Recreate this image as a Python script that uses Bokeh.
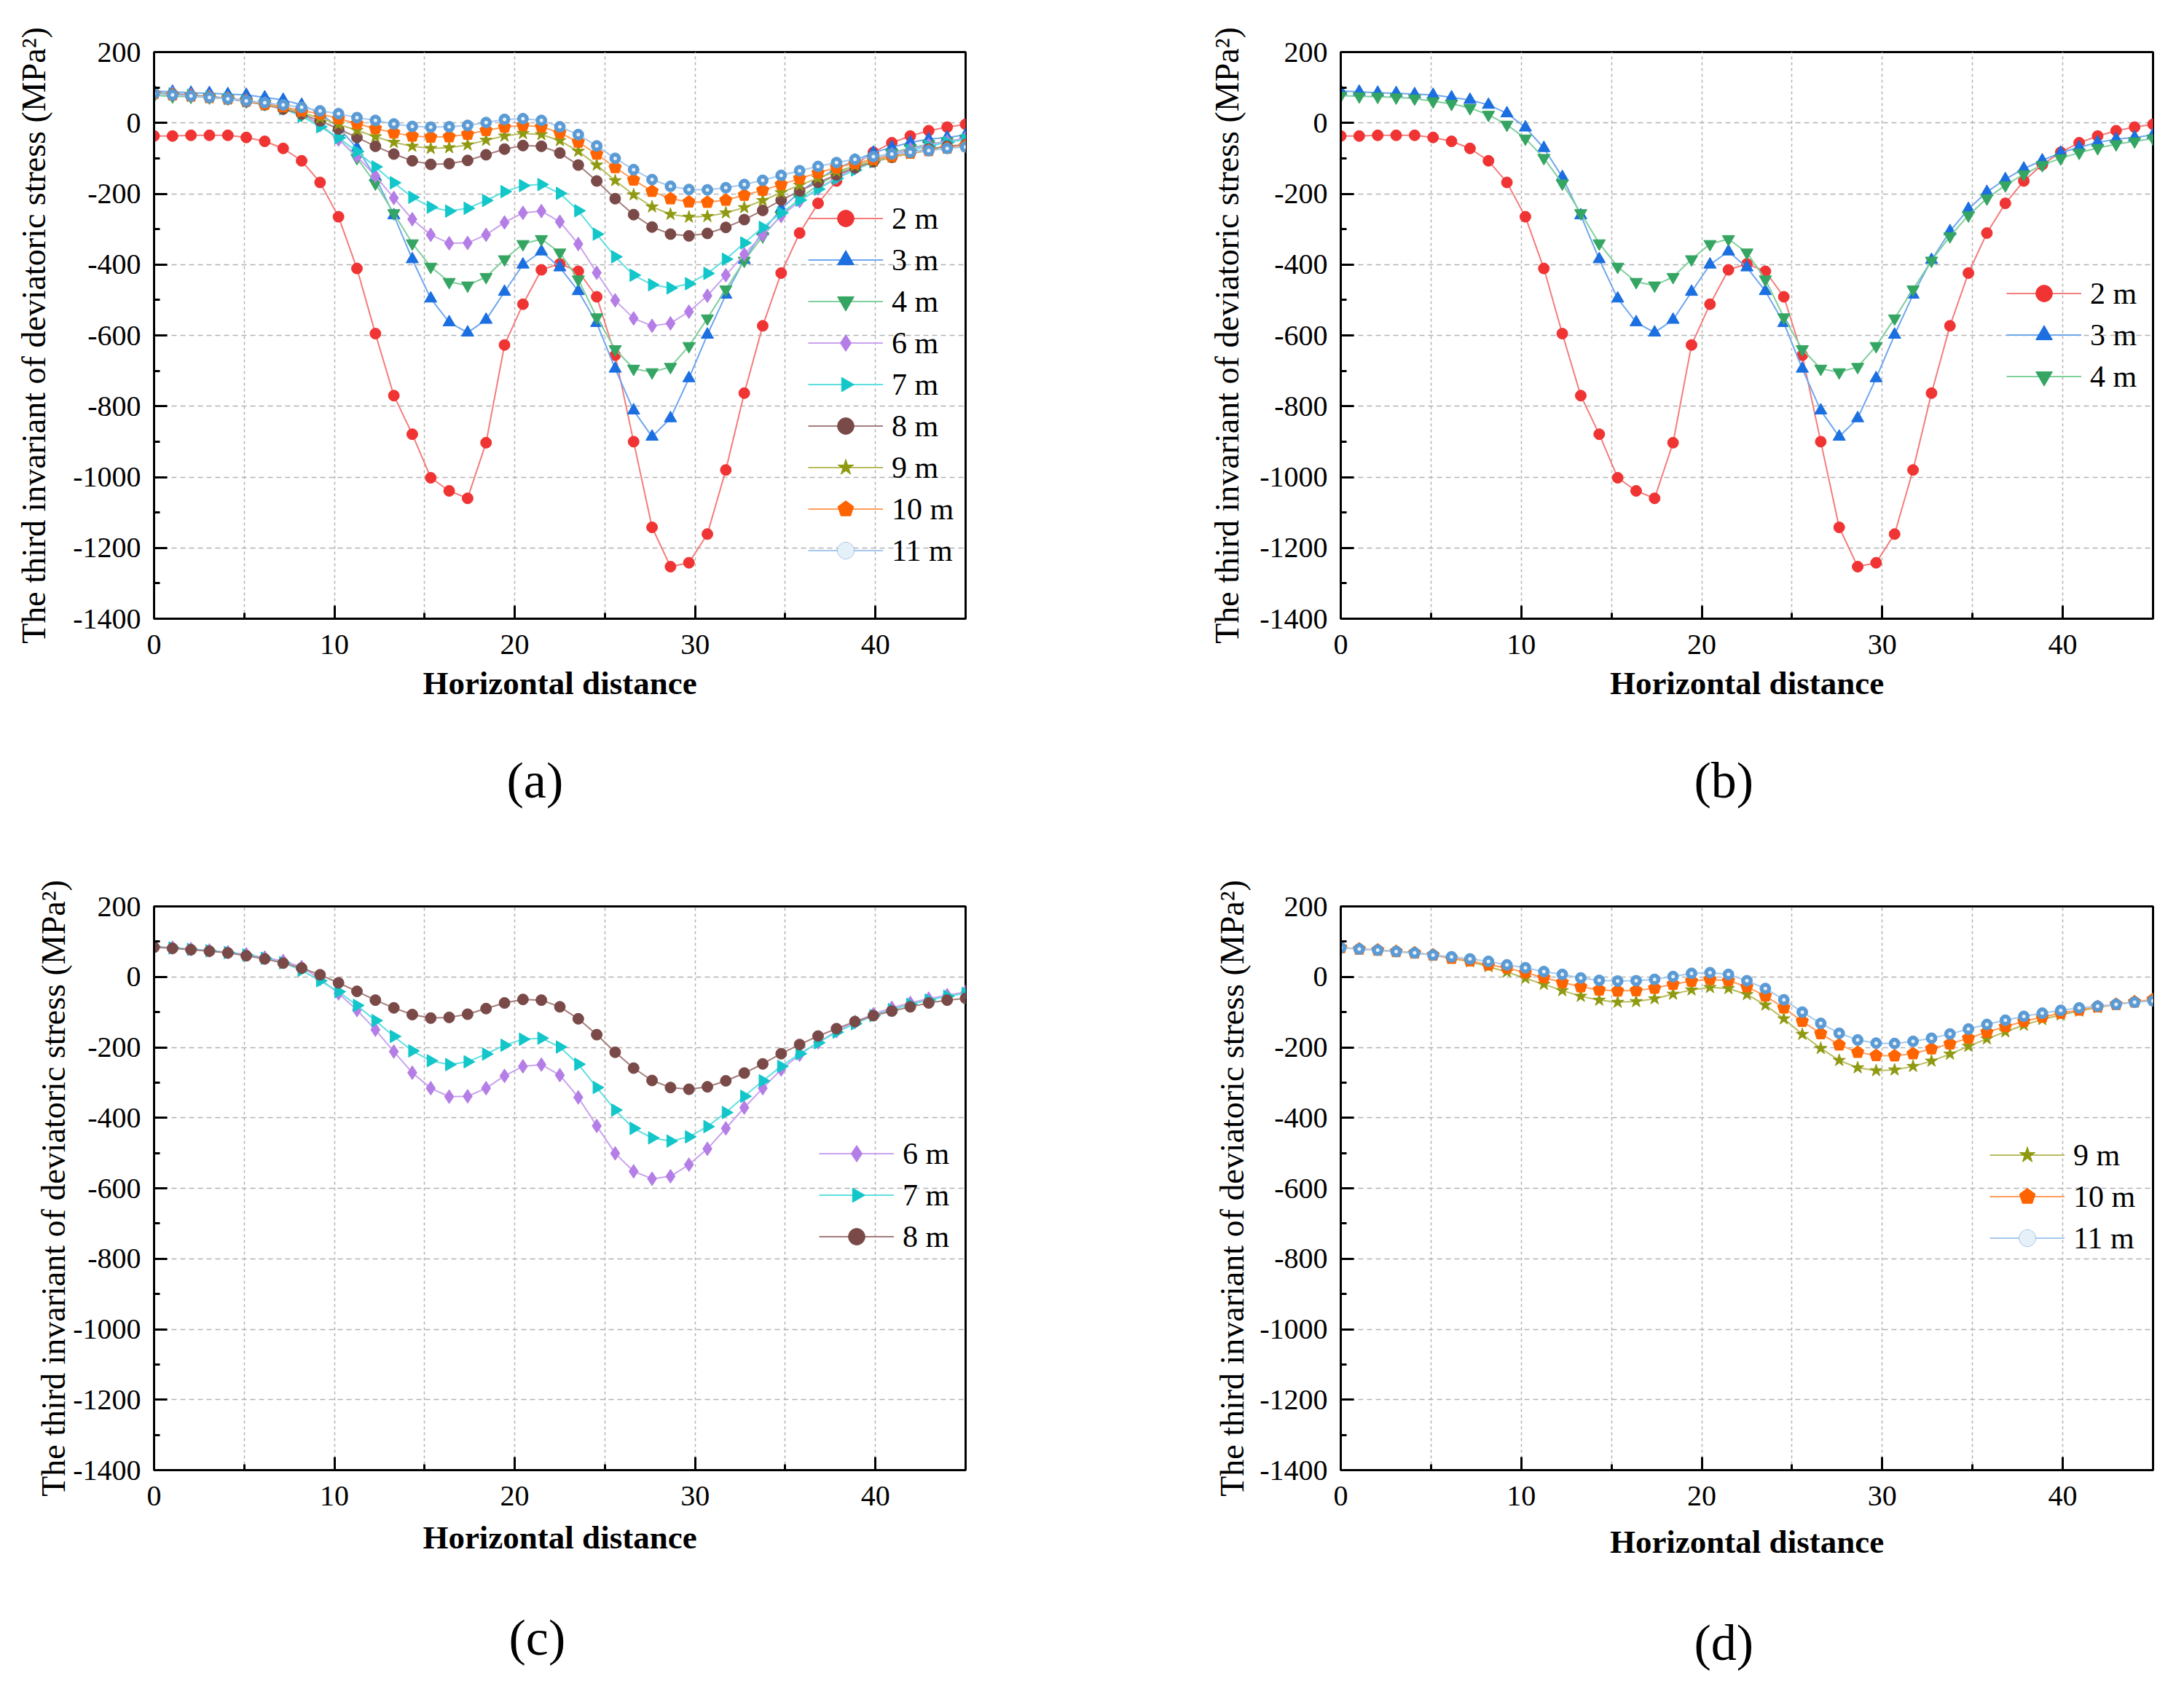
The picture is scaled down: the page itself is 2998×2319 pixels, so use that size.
import numpy as np
from bokeh.plotting import figure
from bokeh.models import (Range1d, SingleIntervalTicker, Legend, LegendItem, Title,
                          ColumnDataSource, PrintfTickFormatter, Ngon)
from bokeh.layouts import column, row
from bokeh.embed import file_html
from bokeh.resources import INLINE

# ---------------- data ----------------
x_pos = [round(i * 45 / 44, 4) for i in range(45)]

s2m = [-37, -37, -35, -35, -35, -41, -52, -72, -107, -168, -265, -411, -595, -770, -879,
       -1002, -1039, -1060, -903, -627, -512, -415, -398, -419, -491, -656, -900, -1142,
       -1253, -1242, -1161, -980, -763, -573, -424, -311, -227, -164, -118, -83, -56, -37,
       -22, -12, -4]
s3m = [90, 88, 85, 84, 81, 79, 72, 65, 51, 27, -13, -71, -153, -261, -385, -496, -563, -592,
       -556, -477, -400, -363, -408, -475, -565, -694, -812, -886, -834, -721, -598, -485,
       -387, -306, -243, -195, -159, -129, -106, -84, -69, -55, -46, -41, -34]
s4m = [77, 75, 74, 72, 69, 61, 54, 42, 23, -5, -44, -99, -171, -255, -340, -406, -449, -459,
       -435, -385, -342, -328, -366, -442, -549, -639, -694, -704, -689, -630, -552, -470,
       -389, -320, -261, -213, -176, -145, -119, -100, -84, -71, -60, -52, -44]
s6m = [86, 83, 79, 75, 70, 64, 55, 45, 28, -6, -47, -94, -150, -212, -272, -316, -340, -339,
       -316, -281, -254, -249, -279, -342, -423, -501, -552, -573, -566, -533, -488, -430,
       -371, -316, -263, -221, -186, -154, -128, -106, -88, -74, -62, -52, -43]
s7m = [85, 82, 78, 74, 69, 62, 53, 40, 19, -11, -42, -81, -124, -169, -210, -238, -249, -241,
       -219, -194, -177, -174, -199, -248, -314, -378, -430, -457, -466, -454, -425, -385,
       -339, -295, -254, -218, -187, -157, -133, -110, -93, -78, -66, -55, -47]
s8m = [84, 81, 77, 73, 68, 60, 51, 39, 25, 6, -17, -41, -66, -88, -107, -117, -115, -106,
       -90, -74, -64, -66, -85, -119, -164, -214, -259, -294, -314, -319, -312, -295, -273,
       -247, -218, -192, -168, -147, -127, -110, -97, -85, -74, -66, -61]
s9m = [83, 79, 76, 72, 68, 62, 52, 43, 29, 14, -4, -21, -39, -55, -66, -72, -70, -62, -49,
       -37, -30, -33, -50, -80, -119, -163, -203, -237, -258, -266, -264, -254, -239, -219,
       -197, -176, -156, -137, -121, -108, -97, -87, -78, -71, -66]
s10m = [83, 79, 76, 72, 68, 62, 53, 46, 34, 26, 12, -2, -16, -28, -37, -40, -39, -32, -21,
        -12, -7, -11, -28, -54, -88, -126, -161, -193, -214, -223, -224, -218, -204, -190,
        -174, -157, -141, -126, -114, -103, -94, -85, -78, -71, -64]
s11m = [83, 79, 76, 72, 68, 62, 57, 51, 44, 34, 26, 15, 7, -3, -10, -12, -11, -7, 1, 10, 12,
        7, -11, -33, -65, -100, -132, -160, -179, -188, -189, -183, -174, -162, -148, -135,
        -123, -112, -103, -95, -88, -83, -78, -72, -68]

series_names = ["2 m", "3 m", "4 m", "6 m", "7 m", "8 m", "9 m", "10 m", "11 m"]
series_vals = [s2m, s3m, s4m, s6m, s7m, s8m, s9m, s10m, s11m]

x_axis_title = "Horizontal distance"
y_axis_title = "The third invariant of deviatoric stress (MPa\u00b2)"

# ---------------- styles ----------------
# ngon entries: (sides, screen radius, rotation in radians)
STY = {
    "2 m": dict(marker="circle", fill="#f03434", line="#f47c7c", size=15),
    "3 m": dict(marker="triangle", fill="#1b6fe0", line="#6fa7ee", size=17),
    "4 m": dict(marker="inverted_triangle", fill="#34a562", line="#80cf9c", size=17),
    "6 m": dict(marker="diamond", fill="#b47ee6", line="#caa2ee", size=19),
    "7 m": dict(ngon=(3, 10, -np.pi / 2), fill="#12c6c9", line="#5fdfe0"),
    "8 m": dict(marker="circle", fill="#7a4a48", line="#a47e7c", size=15),
    "9 m": dict(marker="star", fill="#8f9a12", line="#b9bc60", size=18),
    "10 m": dict(ngon=(5, 9, 0.0), fill="#ff6400", line="#ff9c5c"),
    "11 m": dict(marker="circle", fill="#5b9bd5", line="#a6c8ec", size=15),
}

FONT = "Liberation Serif"


def make_panel(names, fw, fh, bl, br, bt, bb, ylab_standoff, xlab_standoff,
               legend_loc, legend_row, caption, cap_offset, cap_standoff):
    p = figure(frame_width=fw, frame_height=fh, min_border_left=bl, min_border_right=br,
               min_border_top=bt, min_border_bottom=bb,
               x_range=Range1d(0, 45), y_range=Range1d(-1400, 200),
               output_backend="svg", toolbar_location=None,
               background_fill_color="white", border_fill_color="white")
    p.outline_line_color = "black"
    p.outline_line_width = 3
    p.outline_line_alpha = 1.0

    p.xaxis.ticker = SingleIntervalTicker(interval=10, num_minor_ticks=2)
    p.yaxis.ticker = SingleIntervalTicker(interval=200, num_minor_ticks=2)
    p.yaxis.formatter = PrintfTickFormatter(format="%d")
    p.xaxis.formatter = PrintfTickFormatter(format="%d")
    for ax in (p.xaxis[0], p.yaxis[0]):
        ax.axis_line_width = 3
        ax.axis_line_color = "black"
        ax.major_tick_in = 18
        ax.major_tick_out = 0
        ax.minor_tick_in = 8
        ax.minor_tick_out = 0
        ax.major_tick_line_width = 3
        ax.minor_tick_line_width = 3
        ax.major_label_text_font = FONT
        ax.major_label_text_font_size = "40px"
        ax.major_label_text_color = "black"
        ax.axis_label_text_color = "black"
        ax.axis_label_text_font = FONT
    p.yaxis.major_label_standoff = 18
    p.xaxis.major_label_standoff = 22
    p.xaxis.axis_label = x_axis_title
    p.xaxis.axis_label_text_font_size = "45px"
    p.xaxis.axis_label_text_font_style = "bold"
    p.xaxis.axis_label_standoff = xlab_standoff
    p.yaxis.axis_label = y_axis_title
    p.yaxis.axis_label_text_font_size = "46px"
    p.yaxis.axis_label_text_font_style = "normal"
    p.yaxis.axis_label_standoff = ylab_standoff

    p.xgrid.ticker = SingleIntervalTicker(interval=5)
    p.xgrid.grid_line_color = "#b2b2b2"
    p.xgrid.grid_line_width = 1.5
    p.xgrid.grid_line_dash = "4 4"
    p.ygrid.grid_line_color = "#b2b2b2"
    p.ygrid.grid_line_width = 1.5
    p.ygrid.grid_line_dash = "7 5"

    items = []
    for nm in names:
        vals = series_vals[series_names.index(nm)]
        st = STY[nm]
        src = ColumnDataSource(dict(x=x_pos, y=vals))
        ln = p.line("x", "y", source=src, line_color=st["line"], line_width=2)
        if "ngon" in st:
            n, rad, ang = st["ngon"]
            g = Ngon(x="x", y="y", n=n, radius=rad, radius_units="screen", angle=ang,
                     fill_color=st["fill"], line_color=st["fill"], line_width=1)
            sc = p.add_glyph(src, g)
        else:
            sc = p.scatter("x", "y", source=src, marker=st["marker"], size=st["size"],
                           fill_color=st["fill"], line_color=st["fill"], line_width=1)
        rs = [ln, sc]
        if nm == "11 m":
            hl = p.scatter("x", "y", source=src, marker="circle", size=5, fill_color="white",
                           line_color=None, fill_alpha=0.85)
            rs.append(hl)
        items.append(LegendItem(label=nm, renderers=rs))

    leg = Legend(items=items, location=legend_loc, orientation="vertical",
                 glyph_width=103, glyph_height=legend_row, label_height=legend_row,
                 spacing=0, padding=0, margin=0, label_standoff=12,
                 label_text_font=FONT, label_text_font_size="42px",
                 label_text_color="black", border_line_color=None,
                 background_fill_alpha=0.0)
    p.add_layout(leg, "center")

    cap = Title(text=caption, align="left", offset=cap_offset, standoff=cap_standoff,
                text_font=FONT, text_font_size="70px", text_font_style="normal",
                text_color="black")
    p.add_layout(cap, "below")
    return p


pa = make_panel(series_names, 1114, 778, 211, 242, 71, 321, 25, 12,
                (898, 65), 57, "(a)", 484, 131)
pb = make_panel(["2 m", "3 m", "4 m"], 1115, 778, 273, 27, 71, 321, 16, 12,
                (914, 304), 57, "(b)", 485, 131)
pc = make_panel(["6 m", "7 m", "8 m"], 1114, 774, 211, 242, 69, 283, -2, 16,
                (913, 292), 57, "(c)", 487, 139)
pd = make_panel(["9 m", "10 m", "11 m"], 1115, 774, 273, 27, 69, 283, 9, 22,
                (891, 290), 57, "(d)", 485, 141)

layout = column(row(pa, pb, spacing=0), row(pc, pd, spacing=0), spacing=0)

with open("out.html", "w") as f:
    f.write(file_html(layout, INLINE))
